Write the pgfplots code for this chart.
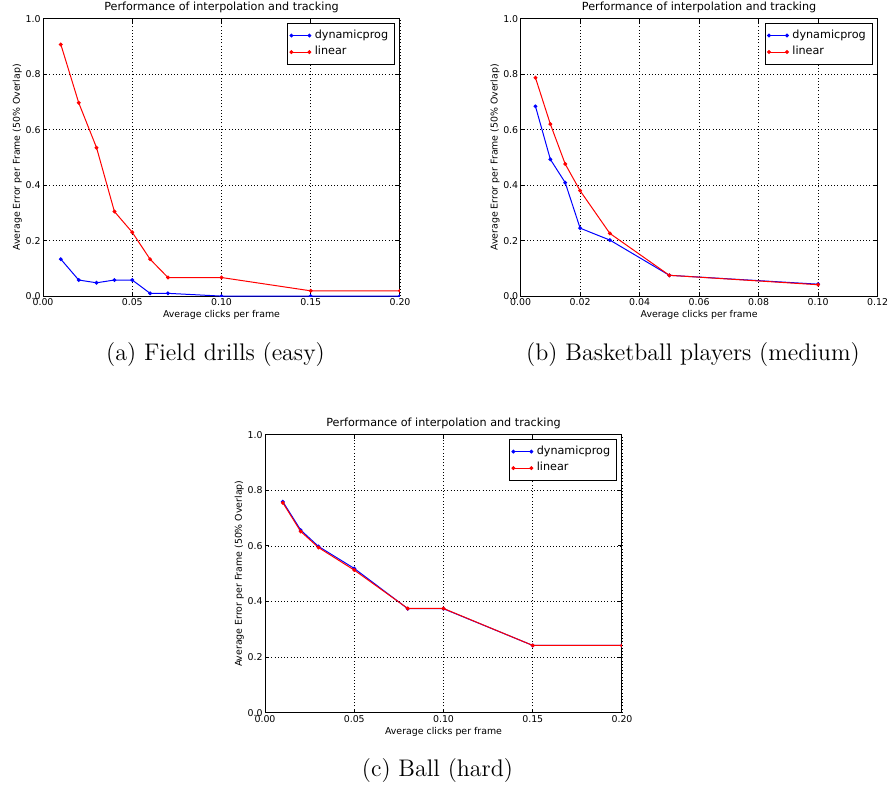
\documentclass[border=0pt]{standalone}
\usepackage{fontspec}
\usepackage{pgfplots}
\pgfplotsset{compat=1.18}
\newfontfamily\dejavu{DejaVu Sans}

% 1px of the reference = 0.5pt
\pgfplotsset{
  mpl/.style={
    scale only axis, width=178.5pt, height=138.7pt,
    anchor=north west,
    xmin=0, ymin=0, ymax=1,
    ytick={0,0.2,0.4,0.6,0.8,1},
    scaled ticks=false,
    /pgf/number format/assume math mode=true,
    xticklabel style={/pgf/number format/.cd, fixed, fixed zerofill, precision=2},
    yticklabel style={/pgf/number format/.cd, fixed, fixed zerofill, precision=1},
    tick label style={font=\dejavu\fontsize{4.7}{5.6}\selectfont, inner sep=1pt},
    label style={font=\dejavu\fontsize{4.7}{5.6}\selectfont, inner sep=0pt},
    every axis title/.style={at={(0.5,1)}, anchor=south, yshift=2.6pt,
      font=\dejavu\fontsize{5.6}{6.7}\selectfont, inner sep=0pt},
    xlabel style={at={(axis description cs:0.5,-0.05)}, anchor=north},
    ylabel style={at={(axis description cs:-0.058,0.5)}, anchor=south},
    grid=major,
    grid style={black, line width=0.4pt, dash pattern=on 0.5pt off 1.1pt},
    axis line style={line width=0.5pt},
    tick style={black, line width=0.5pt}, major tick length=2pt,
    tick align=inside,
    clip marker paths=true,
    every axis plot/.append style={line width=0.5pt, mark=*, mark size=0.7pt, mark options={solid}},
    legend style={at={(0.986,0.985)}, anchor=north east, draw=black, line width=0.5pt,
      font=\dejavu\fontsize{5.6}{6.7}\selectfont, inner sep=1.2pt, row sep=-1.5pt,
      cells={anchor=west}},
    legend image code/.code={\draw[mark repeat=1,mark phase=1,#1] plot coordinates {(0pt,0pt)(9pt,0pt)};},
    title={Performance of interpolation and tracking},
    xlabel={Average clicks per frame},
    ylabel={Average Error per Frame (50\% Overlap)},
  }
}

\begin{document}
\begin{tikzpicture}
\path[use as bounding box] (0,0) rectangle (445pt,-394.5pt);

% (a) Field drills
\begin{axis}[mpl, at={(21.5pt,-9.35pt)}, xmax=0.2,
  xtick={0,0.05,0.1,0.15,0.2}]
\addplot[blue] coordinates {
  (0.01,0.133)(0.02,0.058)(0.03,0.048)(0.04,0.058)(0.05,0.058)
  (0.06,0.010)(0.07,0.010)(0.10,0.0)(0.15,0.0)(0.20,0.0)};
\addlegendentry{dynamicprog}
\addplot[red] coordinates {
  (0.01,0.907)(0.02,0.697)(0.03,0.535)(0.04,0.305)(0.05,0.230)
  (0.06,0.133)(0.07,0.067)(0.10,0.067)(0.15,0.019)(0.20,0.019)};
\addlegendentry{linear}
\end{axis}

% (b) Basketball players
\begin{axis}[mpl, at={(260.3pt,-9.35pt)}, xmax=0.12,
  xtick={0,0.02,0.04,0.06,0.08,0.1,0.12}]
\addplot[blue] coordinates {
  (0.005,0.684)(0.01,0.493)(0.015,0.409)(0.02,0.245)(0.03,0.202)
  (0.05,0.075)(0.10,0.043)};
\addlegendentry{dynamicprog}
\addplot[red] coordinates {
  (0.005,0.787)(0.01,0.620)(0.015,0.476)(0.02,0.380)(0.03,0.226)
  (0.05,0.075)(0.10,0.041)};
\addlegendentry{linear}
\end{axis}

% (c) Ball
\begin{axis}[mpl, at={(132.5pt,-217.35pt)}, height=139pt, xmax=0.2,
  xtick={0,0.05,0.1,0.15,0.2}]
\addplot[blue] coordinates {
  (0.01,0.759)(0.02,0.657)(0.03,0.598)(0.05,0.519)(0.08,0.374)
  (0.10,0.374)(0.15,0.242)(0.20,0.242)};
\addlegendentry{dynamicprog}
\addplot[red] coordinates {
  (0.01,0.755)(0.02,0.652)(0.03,0.594)(0.05,0.513)(0.08,0.375)
  (0.10,0.375)(0.15,0.242)(0.20,0.242)};
\addlegendentry{linear}
\end{axis}

\node[font=\fontsize{12}{14}\selectfont, inner sep=0pt] at (107.75pt,-177.5pt) {(a) Field drills (easy)};
\node[font=\fontsize{12}{14}\selectfont, inner sep=0pt] at (346.5pt,-177.5pt) {(b) Basketball players (medium)};
\node[font=\fontsize{12}{14}\selectfont, inner sep=0pt] at (218.75pt,-385pt) {(c) Ball (hard)};
\end{tikzpicture}
\end{document}
